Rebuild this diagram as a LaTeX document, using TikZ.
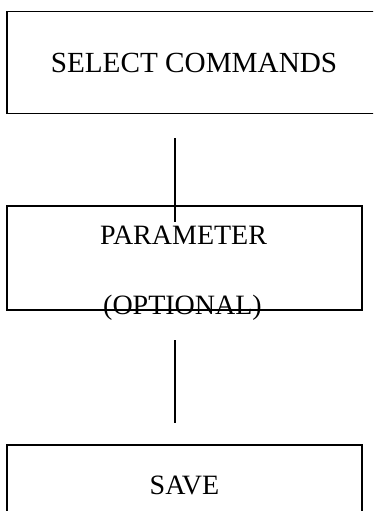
\documentclass[tikz,border=0pt]{standalone}
\usepackage{fontspec}
\setmainfont{Liberation Serif}
\begin{document}
\begin{tikzpicture}[x = 1pt, y = -1pt, font = \fontsize{28}{34}\selectfont, line width = 1.2pt,
        box/.style = {draw, inner sep = 0pt, minimum width = 355pt, minimum height = 104pt}]
        \clip (0,0) rectangle (373,511);
        
        \node [box, minimum width = 374pt, minimum height = 102pt, font = \fontsize{29.2}{35}\selectfont] (select) at (194,62.5) {SELECT COMMANDS};
        
        \node [box] (param) at (184.5,258) {};
        \node [anchor = base] (paramtop) at (183.5,244) {PARAMETER};
        \node [anchor = base] (parambot) at (182.5,314) {(OPTIONAL)};
        
        \node [box, minimum height = 80pt] (save) at (184.5,485) {SAVE};
        
        \coordinate (linea1) at (175,138);
        \coordinate (linea2) at (175,222);
        \coordinate (lineb1) at (175,340);
        \coordinate (lineb2) at (175,423);
        
        \draw (linea1) -- (linea2);
        \draw (lineb1) -- (lineb2);
    \end{tikzpicture}
\end{document}
